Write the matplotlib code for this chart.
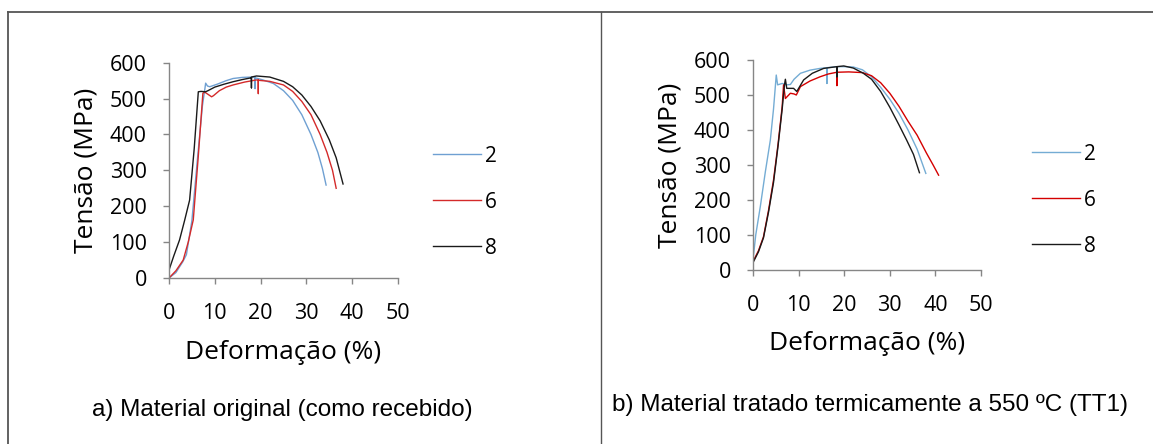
import matplotlib.pyplot as plt
from matplotlib.lines import Line2D

# a) material original - (deformacao %, tensao MPa)
a2_x = [0, 1.5, 3.0, 3.8, 5.0, 6.2, 7.3, 7.8, 8.0, 8.4, 8.9, 10.5, 12.5, 14.0, 16.0, 18.0, 18.8, 18.8, 18.8,
        20.5, 22.8, 25.0, 27.0, 29.0, 31.0, 32.5, 33.5, 34.3]
a2_y = [0, 15, 45, 65, 160, 330, 480, 524, 543, 535, 533, 540, 550, 556, 559, 560, 560, 528, 558,
        552, 542, 522, 495, 455, 400, 350, 305, 259]
a6_x = [0, 1.5, 3.1, 4.2, 5.3, 6.4, 7.4, 7.8, 8.5, 9.3, 9.7, 11.0, 12.5, 14.0, 16.5, 19.1, 19.5, 19.5, 19.5,
        22.0, 25.0, 27.0, 29.0, 31.0, 33.0, 34.5, 35.7, 36.5]
a6_y = [0, 20, 50, 100, 162, 340, 515, 518, 512, 505, 508, 522, 532, 538, 546, 552, 552, 514, 551,
        548, 538, 520, 492, 455, 400, 350, 300, 250]
a8_x = [0, 1.0, 2.3, 3.4, 4.5, 5.5, 6.4, 7.0, 8.0, 8.5, 10.0, 12.0, 14.0, 16.0, 18.0, 18.0, 18.0, 19.1,
        22.0, 25.0, 27.0, 29.0, 31.0, 33.0, 35.0, 36.5, 38.0]
a8_y = [22, 60, 106, 160, 217, 360, 519, 520, 519, 522, 532, 540, 547, 553, 558, 530, 560, 563,
        560, 548, 533, 510, 478, 438, 385, 335, 262]

# b) tratado a 550 C (TT1)
b2_x = [0, 0.6, 1.6, 2.7, 3.8, 4.5, 5.1, 5.4, 6.4, 7.4, 8.2, 9.0, 10.4, 12.5, 14.7, 16.2, 16.2, 16.2, 18.4,
        20.0, 22.0, 24.0, 26.0, 28.0, 30.0, 32.0, 34.0, 36.0, 37.9]
b2_y = [29, 100, 181, 280, 371, 460, 557, 529, 533, 529, 530, 545, 562, 571, 576, 578, 533, 578, 581,
        581, 580, 572, 552, 522, 488, 448, 400, 345, 276]
b6_x = [0, 1.2, 2.3, 3.4, 4.5, 5.5, 6.4, 6.7, 7.1, 8.2, 9.0, 9.5, 10.4, 12.5, 14.7, 16.5, 18.4, 18.4, 18.4,
        21.0, 24.0, 26.0, 28.0, 30.0, 32.0, 34.0, 36.0, 38.0, 39.5, 40.7]
b6_y = [24, 55, 95, 170, 257, 360, 467, 529, 490, 505, 503, 500, 524, 540, 552, 560, 565, 527, 565,
        566, 564, 555, 535, 505, 468, 425, 385, 335, 300, 271]
b8_x = [0, 1.2, 2.3, 3.4, 4.5, 5.5, 6.4, 6.9, 7.1, 7.4, 8.9, 9.6, 11.1, 13.0, 15.5, 18.4, 18.4, 18.4, 19.9,
        22.0, 24.2, 26.0, 28.0, 30.0, 32.0, 33.7, 35.2, 36.5]
b8_y = [21, 52, 92, 165, 250, 355, 460, 529, 545, 519, 519, 510, 543, 562, 576, 581, 552, 581, 583,
        577, 562, 545, 510, 465, 415, 371, 330, 278]

series_labels = ['2', '6', '8']
x_ticks = [0, 10, 20, 30, 40, 50]
y_ticks = [0, 100, 200, 300, 400, 500, 600]

cols_a = ['#6fa0d2', '#d42a2a', '#1a1a1a']
cols_b = ['#74acd4', '#d40000', '#1a1a1a']
tick_font = 'Open Sans'
cap_font = ['Liberation Sans']

fig = plt.figure(figsize=(11.53, 4.44), dpi=100)
W, H = 1153.0, 444.0

# moldura e divisoria
fig.add_artist(Line2D([8 / W, 8 / W], [0, 1 - 12 / H], color='#555555', lw=1.3))
fig.add_artist(Line2D([8 / W, 1], [1 - 12 / H, 1 - 12 / H], color='#555555', lw=1.3))
fig.add_artist(Line2D([601 / W, 601 / W], [0, 1 - 12 / H], color='#555555', lw=1.0))


def make_panel(rect, data, cols, legend_xy, ylab_xy, xlab_xy, cap_xy, caption):
    ax = fig.add_axes(rect)
    for (xs, ys), c, lab in zip(data, cols, series_labels):
        ax.plot(xs, ys, color=c, lw=1.0, label=lab)
    ax.set_xlim(0, 50)
    ax.set_ylim(0, 600)
    ax.set_xticks(x_ticks)
    ax.set_yticks(y_ticks)
    for s in ['top', 'right']:
        ax.spines[s].set_visible(False)
    for s in ['left', 'bottom']:
        ax.spines[s].set_color('#868686')
        ax.spines[s].set_linewidth(1.0)
    ax.tick_params(length=4, width=1.0, color='#868686', labelsize=15.5)
    ax.xaxis.set_tick_params(pad=14)
    ax.yaxis.set_tick_params(pad=12)
    for t in ax.get_xticklabels() + ax.get_yticklabels():
        t.set_fontfamily(tick_font)
    fig.text(ylab_xy[0] / W, 1 - ylab_xy[1] / H, 'Tensão (MPa)', rotation=90,
             ha='center', va='center', fontsize=19, family=tick_font)
    fig.text(xlab_xy[0] / W, 1 - xlab_xy[1] / H, 'Deformação (%)',
             ha='center', va='center', fontsize=19, family=tick_font)
    fig.text(cap_xy[0] / W, 1 - cap_xy[1] / H, caption,
             ha='center', va='center', fontsize=17.5, family=cap_font)
    handles, labels = ax.get_legend_handles_labels()
    fig.legend(handles, labels, loc='center left',
               bbox_to_anchor=(legend_xy[0] / W, 1 - legend_xy[1] / H),
               frameon=False, borderpad=0, borderaxespad=0,
               handlelength=2.3, handletextpad=0.2, labelspacing=1.2,
               prop={'family': tick_font, 'size': 15})
    return ax


make_panel([169 / W, 1 - 278 / H, 229 / W, 215.3 / H],
           [(a2_x, a2_y), (a6_x, a6_y), (a8_x, a8_y)], cols_a,
           (433, 202), (86, 170), (283, 352), (282, 410),
           'a) Material original (como recebido)')
make_panel([753 / W, 1 - 270 / H, 228 / W, 210 / H],
           [(b2_x, b2_y), (b6_x, b6_y), (b8_x, b8_y)], cols_b,
           (1032, 200), (670, 165), (867, 344), (870, 405),
           'b) Material tratado termicamente a 550 ºC (TT1)')

fig.savefig('out.png', dpi=100)
